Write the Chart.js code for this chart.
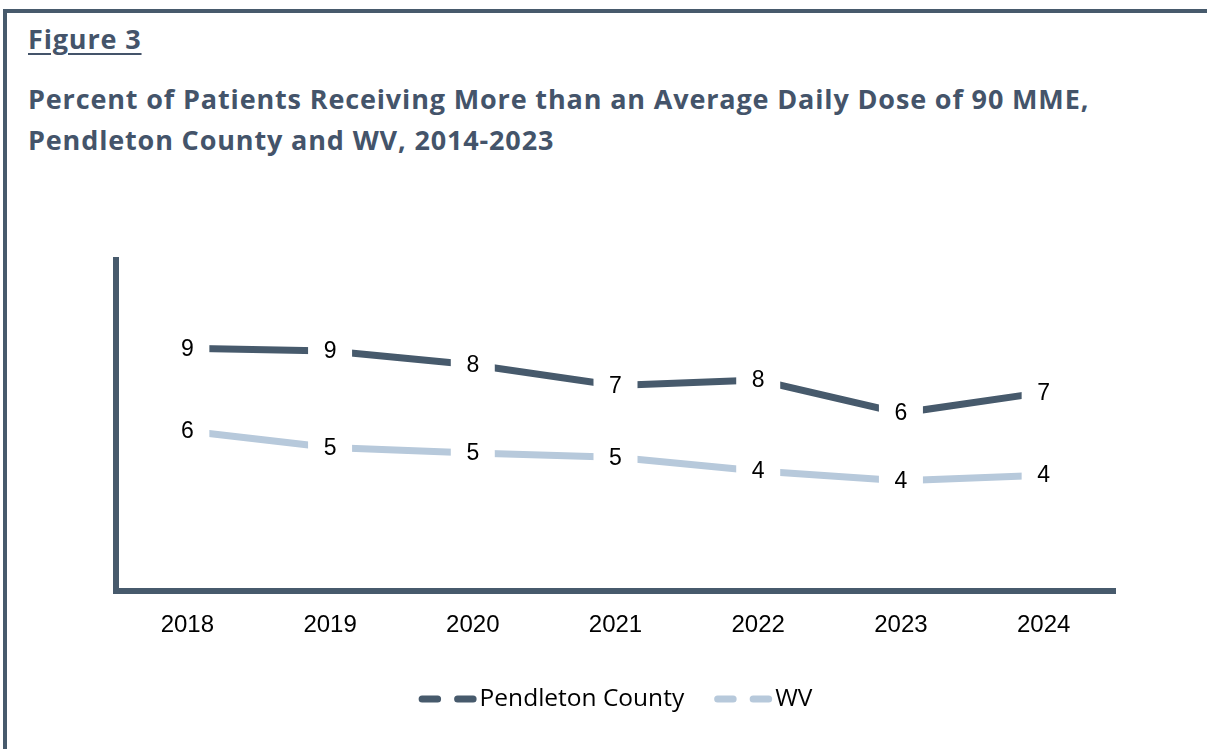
<!DOCTYPE html>
<html>
<head>
<meta charset="utf-8">
<script src="https://cdn.jsdelivr.net/npm/chart.js@4.4.1/dist/chart.umd.min.js"></script>
<style>
  html, body { margin: 0; padding: 0; background: #ffffff; }
  body { width: 1207px; height: 749px; position: relative; overflow: hidden; }
  #frame { position: absolute; left: 3px; top: 9px; width: 1300px; height: 900px;
           border-top: 4px solid #475A6C; border-left: 4px solid #475A6C; box-sizing: border-box; }
  .ttl { position: absolute; left: 28px; font-family: "Open Sans", sans-serif; font-weight: 700;
         font-size: 27px; letter-spacing: 0.85px; line-height: 40.5px; color: #44546A; white-space: nowrap; }
  #fig { top: 19px; text-decoration: underline; text-decoration-thickness: 2px; text-underline-offset: 4px; }
  #title { top: 79px; }
  #wrap { position: absolute; left: 0; top: 0; width: 1207px; height: 749px; }
</style>
</head>
<body>
<div id="frame"></div>
<div class="ttl" id="fig">Figure 3</div>
<div class="ttl" id="title">Percent of Patients Receiving More than an Average Daily Dose of 90 MME,<br>Pendleton County and WV, 2014-2023</div>
<div id="wrap"><canvas id="c" width="1207" height="749"></canvas></div>
<script>
// ---- data ----
const years = ['2018', '2019', '2020', '2021', '2022', '2023', '2024'];
const pendleton = [8.8, 8.7, 8.2, 7.45, 7.65, 6.45, 7.2];
const wv = [5.8, 5.2, 5.0, 4.85, 4.35, 4.0, 4.2];
const seriesNames = ['Pendleton County', 'WV'];

const DARK = '#475A6C';
const LIGHT = '#B7C9DB';

const boxLabels = {
  id: 'boxLabels',
  afterDatasetsDraw(chart) {
    const ctx = chart.ctx;
    chart.data.datasets.forEach((ds, i) => {
      const meta = chart.getDatasetMeta(i);
      meta.data.forEach((pt, j) => {
        ctx.save();
        ctx.fillStyle = '#ffffff';
        ctx.fillRect(pt.x - 22, pt.y - 15, 44, 30);
        ctx.fillStyle = '#000000';
        ctx.font = '23px "Liberation Sans", Arial, sans-serif';
        ctx.textAlign = 'center';
        ctx.textBaseline = 'middle';
        ctx.fillText(String(Math.round(ds.data[j])), pt.x, pt.y + 1);
        ctx.restore();
      });
    });
  }
};

const customLegend = {
  id: 'customLegend',
  afterDraw(chart) {
    const ctx = chart.ctx;
    const font = '24.5px "Open Sans", sans-serif';
    ctx.save();
    ctx.font = font;
    const sampleW = 58, gapText = 3, gapItem = 30;
    const items = chart.data.datasets.map(ds => ({ label: ds.label, color: ds.borderColor, w: ctx.measureText(ds.label).width }));
    let total = 0;
    items.forEach((it, k) => { total += sampleW + gapText + it.w + (k < items.length - 1 ? gapItem : 0); });
    const ca = chart.chartArea;
    let x = (ca.left + ca.right) / 2 - total / 2;
    const y = 699;
    items.forEach(it => {
      ctx.strokeStyle = it.color;
      ctx.lineWidth = 7;
      ctx.lineCap = 'round';
      ctx.beginPath();
      ctx.moveTo(x + 3.5, y); ctx.lineTo(x + 19, y);
      ctx.moveTo(x + 39, y); ctx.lineTo(x + sampleW - 3.5, y);
      ctx.stroke();
      x += sampleW + gapText;
      ctx.fillStyle = '#000000';
      ctx.textAlign = 'left';
      ctx.textBaseline = 'middle';
      ctx.fillText(it.label, x, y);
      x += it.w + gapItem;
    });
    ctx.restore();
  }
};

new Chart(document.getElementById('c'), {
  type: 'line',
  data: {
    labels: years,
    datasets: [
      { label: seriesNames[0], data: pendleton, borderColor: DARK, backgroundColor: DARK,
        borderWidth: 7, pointRadius: 0, tension: 0, borderCapStyle: 'butt' },
      { label: seriesNames[1], data: wv, borderColor: LIGHT, backgroundColor: LIGHT,
        borderWidth: 7, pointRadius: 0, tension: 0, borderCapStyle: 'butt' }
    ]
  },
  options: {
    responsive: false,
    animation: false,
    events: [],
    layout: { padding: { left: 116, right: 92, top: 260, bottom: 108 } },
    plugins: { legend: { display: false }, tooltip: { enabled: false } },
    scales: {
      x: {
        offset: true,
        grid: { display: false, drawTicks: false },
        border: { display: true, color: DARK, width: 6 },
        ticks: { color: '#000000', padding: 20, font: { family: '"Liberation Sans", Arial, sans-serif', size: 24 } },
        afterFit(scale) { scale.height = 50; }
      },
      y: {
        min: 0, max: 12,
        grid: { display: false, drawTicks: false },
        border: { display: true, color: DARK, width: 6 },
        ticks: { display: false },
        afterFit(scale) { scale.width = 0; }
      }
    }
  },
  plugins: [boxLabels, customLegend]
});
</script>
</body>
</html>
